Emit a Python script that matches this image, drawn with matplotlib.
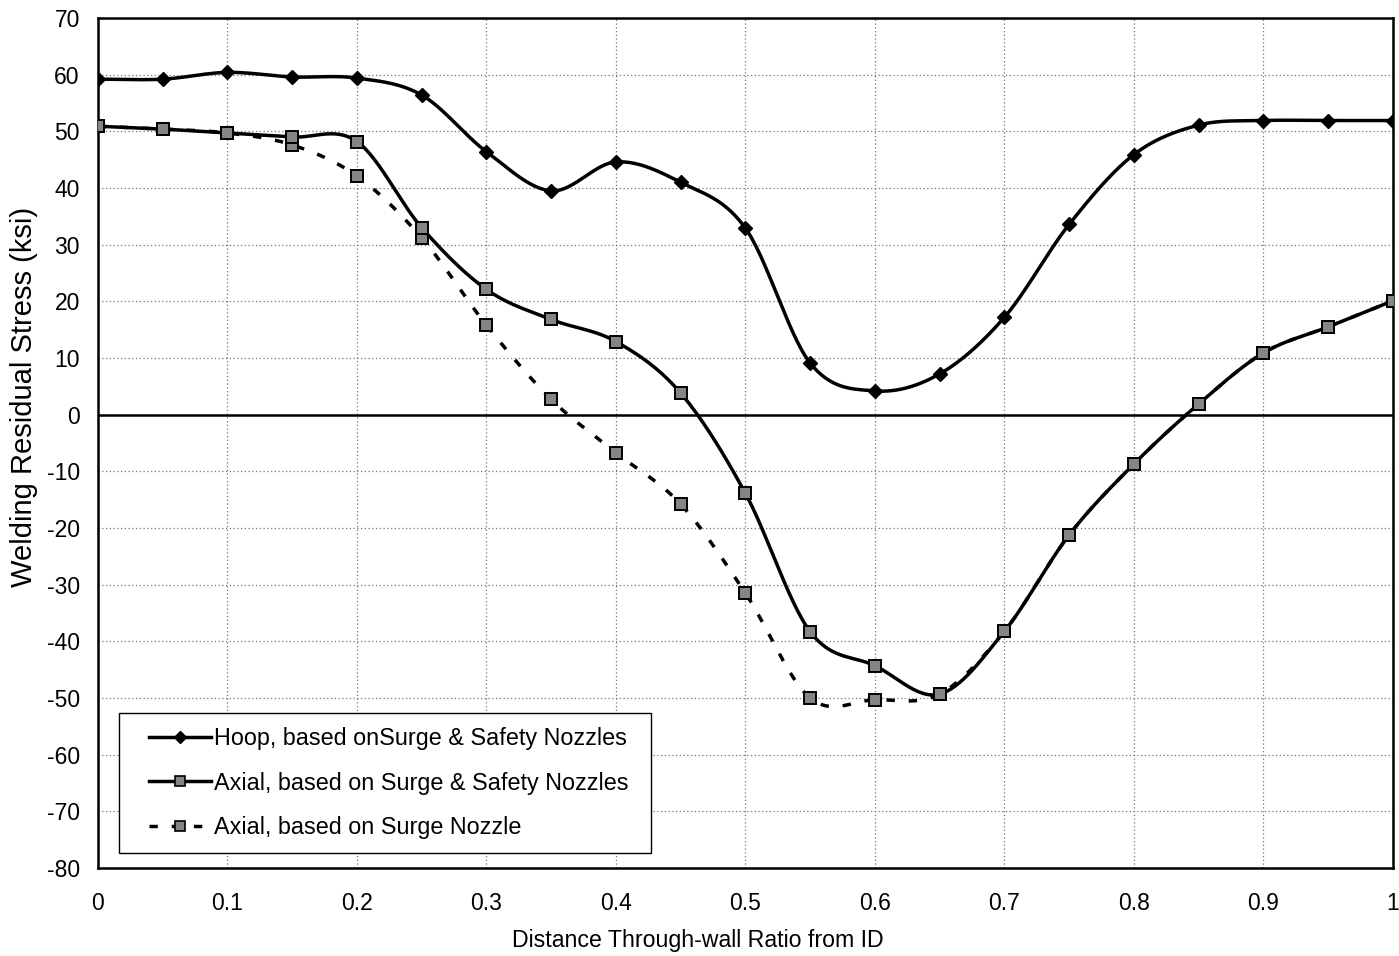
import numpy as np
import matplotlib
matplotlib.use("Agg")
import matplotlib.pyplot as plt
from matplotlib.lines import Line2D
from matplotlib.patches import Rectangle

plt.rcParams['font.family'] = ['Liberation Sans', 'DejaVu Sans']
plt.rcParams['axes.unicode_minus'] = False

x = [0, 0.05, 0.1, 0.15, 0.2, 0.25, 0.3, 0.35, 0.4, 0.45, 0.5,
     0.55, 0.6, 0.65, 0.7, 0.75, 0.8, 0.85, 0.9, 0.95, 1.0]
hoop = [59.2, 59.2, 60.4, 59.6, 59.4, 56.4, 46.4, 39.5, 44.6, 41.0, 32.9,
        9.1, 4.2, 7.2, 17.2, 33.6, 45.9, 51.1, 51.9, 51.9, 51.9]
axial_both = [50.9, 50.4, 49.7, 49.0, 48.2, 33.0, 22.1, 16.8, 12.9, 3.8, -13.9,
              -38.3, -44.3, -49.3, -38.2, -21.2, -8.7, 1.9, 10.9, 15.5, 20.1]
axial_surge = [50.9, 50.4, 49.7, 47.6, 42.1, 31.2, 15.8, 2.7, -6.7, -15.8, -31.5,
               -50.0, -50.3, -49.3, -38.2, -21.2, -8.7, 1.9, 10.9, 15.5, 20.1]

labels = ["Hoop, based onSurge & Safety Nozzles",
          "Axial, based on Surge & Safety Nozzles",
          "Axial, based on Surge Nozzle"]


def smooth(xs, ys, n=30):
    xs = np.asarray(xs, float)
    ys = np.asarray(ys, float)
    P = np.column_stack([xs, ys])
    P = np.vstack([P[0] * 2 - P[1], P, P[-1] * 2 - P[-2]])
    out = []
    t = np.linspace(0, 1, n, endpoint=False)[:, None]
    for i in range(1, len(P) - 2):
        p0, p1, p2, p3 = P[i - 1], P[i], P[i + 1], P[i + 2]
        m1 = (p2 - p0) / 2
        m2 = (p3 - p1) / 2
        h00 = 2 * t**3 - 3 * t**2 + 1
        h10 = t**3 - 2 * t**2 + t
        h01 = -2 * t**3 + 3 * t**2
        h11 = t**3 - t**2
        out.append(h00 * p1 + h10 * m1 + h01 * p2 + h11 * m2)
    out.append(P[-2][None, :])
    C = np.vstack(out)
    return C[:, 0], C[:, 1]


fig = plt.figure(figsize=(13.99, 9.56), dpi=100)
ax = fig.add_axes([0.0700, 0.092, 0.9257, 0.8892])

sq_face = '#858585'
lw = 2.5
dash = (0, (2.4, 4.0))

# dashed surge nozzle curve
sx, sy = smooth(x, axial_surge)
ax.plot(sx, sy, color='black', lw=lw, ls=dash, zorder=3)
ax.plot(x, axial_surge, ls='none', marker='s', ms=8.5, mfc=sq_face, mec='black',
        mew=1.4, zorder=4)

# axial both
bx, by = smooth(x, axial_both)
ax.plot(bx, by, color='black', lw=lw, zorder=5)
ax.plot(x, axial_both, ls='none', marker='s', ms=8.5, mfc=sq_face, mec='black',
        mew=1.4, zorder=6)

# hoop
hx, hy = smooth(x, hoop)
ax.plot(hx, hy, color='black', lw=lw, zorder=5)
ax.plot(x, hoop, ls='none', marker='D', ms=7.5, mfc='black', mec='black', zorder=6)

ax.axhline(0, color='black', lw=1.8, zorder=2)

ax.set_xlim(0, 1)
ax.set_ylim(-80, 70)
ax.set_xticks(np.arange(0, 1.01, 0.1))
ax.set_xticklabels(['0', '0.1', '0.2', '0.3', '0.4', '0.5', '0.6', '0.7', '0.8', '0.9', '1'])
ax.set_yticks(np.arange(-80, 71, 10))
ax.tick_params(axis='both', length=0, labelsize=16.5)
ax.tick_params(axis='x', pad=17)
ax.tick_params(axis='y', pad=13)
ax.grid(True, color='#777777', ls=(0, (1, 2)), lw=0.9)
for s in ax.spines.values():
    s.set_linewidth(1.8)
    s.set_color('black')

ax.set_xlabel("Distance Through-wall Ratio from ID", fontsize=16.7)
ax.xaxis.set_label_coords((697 - 97) / 1296, (868 - 929) / 850)
ax.set_ylabel("Welding Residual Stress (ksi)", fontsize=21)
ax.yaxis.set_label_coords(-0.046, (868 - 397) / 850)

# legend frame
x0, x1 = (118 - 97) / 1296, (650 - 97) / 1296
y0, y1 = (868 - 853) / 850, (868 - 713) / 850
ax.add_patch(Rectangle((x0, y0), x1 - x0, y1 - y0, transform=ax.transAxes,
                       facecolor='white', edgecolor='black', lw=1.0, zorder=9))

handles = [
    Line2D([], [], color='black', lw=lw, marker='D', ms=6.5, mfc='black', mec='black'),
    Line2D([], [], color='black', lw=lw, marker='s', ms=7, mfc=sq_face, mec='black', mew=1.2),
    Line2D([], [], color='black', lw=lw, ls=dash, marker='s', ms=7,
           mfc=sq_face, mec='black', mew=1.2),
]
leg = ax.legend(handles, labels, loc='center left',
                bbox_to_anchor=((148 - 97) / 1296, (868 - 783) / 850),
                fontsize=16.8, frameon=False, handlelength=2.65, handletextpad=0.12,
                labelspacing=0.93, borderpad=0, borderaxespad=0)
leg.set_zorder(10)

fig.savefig('out.png', dpi=100)
